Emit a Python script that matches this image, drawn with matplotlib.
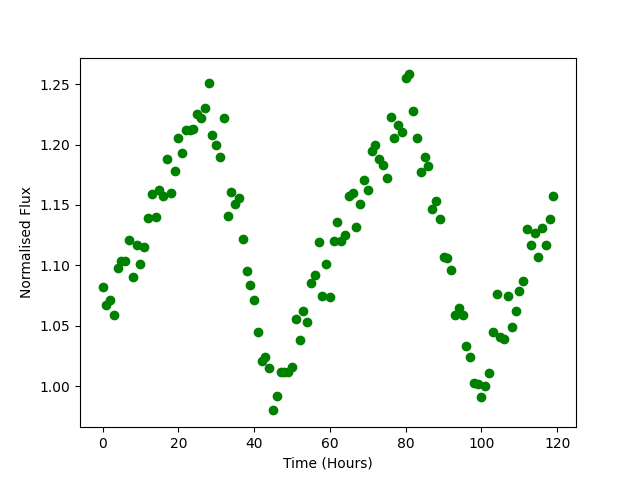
import numpy as np
import matplotlib
matplotlib.use("Agg")
import matplotlib.pyplot as plt

hours = np.arange(120)
flux = [
    1.082, 1.067, 1.071, 1.059, 1.098, 1.104, 1.104, 1.121, 1.090, 1.117,
    1.101, 1.115, 1.139, 1.159, 1.140, 1.162, 1.157, 1.188, 1.160, 1.178,
    1.205, 1.193, 1.212, 1.212, 1.213, 1.225, 1.222, 1.230, 1.251, 1.208,
    1.200, 1.190, 1.222, 1.141, 1.161, 1.151, 1.156, 1.122, 1.095, 1.084,
    1.071, 1.045, 1.021, 1.024, 1.015, 0.980, 0.992, 1.012, 1.012, 1.012,
    1.016, 1.056, 1.038, 1.062, 1.053, 1.085, 1.092, 1.119, 1.075, 1.101,
    1.074, 1.120, 1.136, 1.120, 1.125, 1.157, 1.160, 1.132, 1.151, 1.171,
    1.162, 1.195, 1.200, 1.188, 1.183, 1.172, 1.223, 1.205, 1.216, 1.210,
    1.255, 1.258, 1.228, 1.205, 1.177, 1.190, 1.182, 1.147, 1.153, 1.138,
    1.107, 1.106, 1.096, 1.059, 1.065, 1.059, 1.033, 1.024, 1.003, 1.002,
    0.991, 1.000, 1.011, 1.045, 1.076, 1.041, 1.039, 1.075, 1.049, 1.062,
    1.079, 1.087, 1.130, 1.117, 1.127, 1.107, 1.131, 1.117, 1.138, 1.157,
]

plt.figure(figsize=(6.4, 4.8))
plt.plot(hours, flux, "go")
plt.xlabel("Time (Hours)")
plt.ylabel("Normalised Flux")
plt.savefig("out.png", dpi=100)
plt.close()
